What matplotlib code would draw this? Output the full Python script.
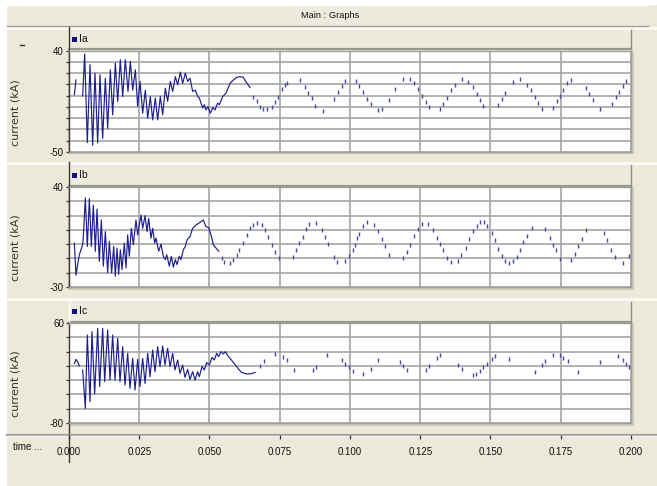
import numpy as np
import matplotlib
matplotlib.use('Agg')
import matplotlib.pyplot as plt
from matplotlib import font_manager
from matplotlib.patches import Rectangle
from matplotlib.ticker import FixedLocator, FuncFormatter

# ---------------- data (time in ms, current in kA) ----------------
series_names = ['Ia', 'Ib', 'Ic']

ia_t = [1.90, 2.49, np.nan, 4.86, 5.58, 6.52, 7.47, 8.42, 9.25, 10.20, 11.03, 11.98, 12.93, 13.76,
        14.71, 15.54, 16.49, 17.32, 18.27, 19.10, 20.05, 21.00, 21.83, 22.66, 23.61, 24.44, 25.27,
        26.22, 27.16, 28.00, 28.94, 29.77, 30.72, 31.55, 32.50, 33.33, 34.28, 35.11, 36.06, 36.89,
        37.84, 38.67, 39.62, 40.45, 41.40, 42.23, 43.06, 44.01, 44.96, 45.79, 46.38, 47.57, 48.16,
        48.75, 49.47, 50.30, 51.13, 51.96, 52.91, 53.50, 54.69, 55.87, 57.3, 58.5, 59.7, 60.9,
        62.0, 63.2, 64.4]
ia_v = [0.8, 14, np.nan, 0, 37, -41.7, 27.5, -44, 20, -42, 18.6, -38, 15.6, -29,
        23, -17, 29, -5, 32, -0.7, 32, 3.8, 30.5, 5, 23, -9.6, 12.7,
        -15.5, 5, -20, -0.7, -21.5, -2, -21.5, -0.7, -17, 6.7, -5, 12.7, 3.8,
        17, 9.7, 21, 11, 20, 12.7, 15.6, 3.8, 5, -0.7, -2, -11, -8,
        -12.6, -9.6, -15.5, -10.5, -12.6, -6.6, -8, -0.7, 2.3, 11, 14, 16.3, 17,
        16.3, 11.6, 7.4]
ia_dot_t = [65.6, 66.8, 68.0, 69.2, 70.3, 72.1, 73.3, 74.5, 75.7, 76.9, 77.7, 82.2, 84.0, 85.2,
            86.4, 87.5, 90.5, 94.3, 95.8, 97.0, 98.3, 102.1, 103.3, 104.5, 106.2, 107.3, 109.8,
            111.3, 114.0, 116.0, 119.0, 121.4, 122.8, 124.3, 125.5, 126.9, 128.2, 132.0, 133.2,
            134.4, 135.8, 137.4, 139.7, 142.1, 143.7, 145.1, 146.3, 147.5, 152.8, 154.2, 155.2,
            157.9, 160.5, 162.9, 164.3, 165.8, 167.0, 168.3, 172.1, 173.5, 174.7, 175.9, 177.3,
            178.5, 184.0, 185.2, 186.6, 189.0, 193.1, 194.5, 195.6, 197.0, 198.2]
ia_dot_v = [-0.9, -5, -9.7, -12, -12, -10.3, -5.3, -0.9, 5.7, 9.5, 11.6, 14, 7.4, 2,
            -2.3, -9, -13.3, -2.6, 3.3, 8.4, 13, 12.7, 8.4, 3.3, -3.2, -7.6, -12.9,
            -11.7, -4, 5.6, 14.5, 14.5, 11, 5.6, -0.3, -5.6, -10, -11.5, -7,
            -1.8, 4.7, 9.8, 15.1, 12.2, 7.4, 1.8, -3.5, -9.1, -8.2, -2.6, 2.4,
            12.2, 15.1, 9.2, 4.7, -1.2, -6.5, -11.5, -10.6, -4.7, -0.6, 5.3, 11,
            14, 6.5, 1.5, -3.8, -12, -7.4, -1.2, 3.3, 8.4, 13]

ib_t = [1.90, 2.49, 3.08, 3.68, 4.27, 4.86, 5.10, 5.81, 6.52, 7.24, 7.95, 8.66, 9.37, 9.96, 10.79,
        11.51, 12.22, 12.93, 13.76, 14.35, 15.18, 15.90, 16.49, 17.08, 17.67, 18.27, 18.86, 19.69,
        20.28, 20.88, 21.47, 22.18, 22.89, 23.84, 24.44, 25.62, 26.22, 27.05, 27.76, 28.35, 29.18,
        29.77, 30.49, 30.96, 31.91, 32.74, 33.57, 34.28, 34.76, 35.71, 36.42, 37.13, 37.84, 38.43,
        39.26, 39.86, 40.69, 41.40, 41.99, 43.06, 44.01, 45.20, 46.14, 46.98, 47.81, 48.75, 49.70,
        50.53, 51.36, 52.31, 53.26]
ib_v = [0.7, -21.7, -14.3, -7.4, -3.9, -0.4, 5.3, 32.4, -1.6, 31.9, -1.6, 27.3, -5, 24.5, -12,
        16.9, -15.4, 8.8, -20, 1.9, -20, -1.6, -22.4, -2.7, -21.2, -3.9, -17.8, 0.7,
        -16.6, 6.5, -8.5, 11.1, -0.4, 16.9, 6.5, 20.4, 11.1, 19.9, 8.8, 18, 4.2,
        11.1, 0.7, 4.2, -5, 0, -8.5, -10.8, -7.4, -15.4, -8.5, -16.1, -10.8, -14.3,
        -8.5, -10.8, -3.9, -1.6, 3, 5.3, 11.1, 13.4, 14.6, 15.7, 16.9, 12.3, 11.6,
        6.5, -0.4, -2.7, -5]
ib_dot_t = [54.3, 55.2, 57.3, 58.5, 59.7, 60.6, 61.8, 63.2, 64.4, 65.6, 67.0, 68.6, 69.8, 70.9,
            72.1, 73.3, 74.9, 79.8, 80.8, 82.0, 83.2, 84.3, 85.5, 87.9, 89.9, 91.1, 92.3, 94.3,
            95.5, 98.2, 99.7, 100.9, 101.8, 102.6, 103.3, 104.7, 106.2, 108.6, 110.1, 111.3,
            112.5, 114.0, 119.0, 120.2, 121.3, 122.8, 124.3, 125.5, 127.9, 129.7, 131.1, 132.0,
            133.2, 134.4, 135.8, 138.5, 139.6, 141.2, 142.5, 143.9, 145.1, 146.3, 147.7, 148.9,
            150.4, 151.6, 152.8, 154.0, 155.1, 156.6, 157.9, 159.3, 160.5, 161.7, 162.9, 164.7,
            169.5, 171.0, 172.1, 173.3, 174.7, 178.5, 180.0, 181.2, 182.4, 184.0, 190.4, 191.6,
            192.9, 194.3, 197.0, 199.4]
ib_dot_v = [-9.8, -12.2, -13.3, -11, -7.5, -4, 0.6, 6.4, 11, 13.3, 15, 13.3, 9.9, 5.2,
            -0.6, -5.2, -9.8, -8.7, -4, 0.6, 5.2, 10.3, 14, 15, 9.9, 5.2, -0.1, -9,
            -12.7, -12, -8.5, -3.9, -0.4, 4.3, 7.3, 12.5, 15.3, 13.6, 9.4, 3.6,
            -1.5, -7.4, -9.7, -5.7, -0.4, 5.5, 10.6, 14.3, 14.3, 9.7, 4.3, 0.1,
            -4.3, -9.7, -12.7, -11.6, -7.4, -2.7, 3.6, 9, 12.9, 15.3, 15.3, 12.5,
            7.8, 2.7, -3.4, -8.5, -11.6, -13.2, -12, -9, -3.9, 1.3, 5.9, 11.3,
            10.6, 4.3, -0.4, -3.9, -10.4, -10.9, -6.7, -1.5, 3.6, 9.7, 7.8, 2.7,
            -3.9, -9, -13.2, -8.5]

ic_t = [1.90, 2.49, 3.08, 3.68, np.nan, 4.86, 5.81, 6.52, 7.47, 8.19, 9.13, 10.20, 10.91, 11.98,
        12.69, 13.76, 14.59, 15.54, 16.37, 17.32, 18.15, 19.10, 19.93, 20.88, 21.71, 22.66, 23.49,
        24.44, 25.27, 26.22, 27.05, 28.00, 28.83, 29.77, 30.60, 31.55, 32.38, 33.33, 34.16, 35.11,
        35.94, 36.89, 37.72, 38.67, 39.50, 40.45, 41.28, 42.23, 43.06, 44.01, 44.84, 45.79, 46.38,
        47.33, 48.16, 48.99, 49.94, 50.89, 51.72, 52.55, 53.26, 54.09, 54.92, 55.63, 56.7, 57.9,
        59.1, 60.3, 61.4, 63.2, 65.0, 66.2]
ic_v = [3.5, 9.1, 5.9, 0, np.nan, -5.8, -59.5, 43.2, -50, 47.9, -39.4, 52.5, -29, 52.5,
        -22, 50.2, -19.8, 43.2, -19.8, 38.5, -22, 26.9, -26.8, 17.5, -31.5, 10.5, -33.8,
        9.1, -29.1, 10.5, -24.5, 17.5, -15.1, 22.2, -8.1, 26.9, -1.1, 27.8, 1.2, 24.5,
        -1.1, 17.5, -5.8, 8.2, -10.5, 1.2, -16.1, -4.9, -18.9, -8.1, -19.8, -8.1, -15.1,
        -1.1, -5.8, 4.5, 1.2, 11.9, 8.2, 17.5, 12.9, 19.9, 16.6, 19.9, 13.3, 7.7,
        1.7, -4.4, -9.1, -11.4, -10.9, -9.1]
ic_dot_t = [68.0, 69.5, 73.4, 76.0, 77.7, 80.1, 86.7, 87.9, 91.7, 97.0, 98.2, 99.7, 100.9, 104.7,
            107.4, 109.9, 117.8, 119.0, 120.4, 126.9, 128.1, 130.8, 132.0, 138.6, 139.8, 143.7,
            144.8, 146.3, 147.5, 148.6, 150.4, 151.6, 156.6, 165.8, 168.2, 169.4, 172.1, 174.7,
            175.9, 177.5, 181.3, 189.0, 195.5, 197.0, 198.3, 199.4]
ic_dot_v = [0.3, 6.3, 17.1, 12.4, 7.7, -5.3, -5.3, -1.6, 15.7, 7.7, 3.1, -2.1, -6.7, -10.9,
            -4.4, 7.7, 4.9, -0.7, -5.3, -5.3, -0.7, 11, 15.2, 0.7, -4.4, -12.3,
            -10.9, -6.7, -2.1, 3.1, 9.6, 13.3, 9.6, -9.1, 1.2, 6.8, 15.2, 15.2,
            11.5, 6.8, -8.6, 4.9, 13.3, 8.7, 3.1, -2.1]

y_limits = [(-50, 40, 10), (-30, 40, 10), (-80, 60, 20)]
time_ticks = [0.000, 0.025, 0.050, 0.075, 0.100, 0.125, 0.150, 0.175, 0.200]
time_labels = ['0.000', '0.025', '0.050', '0.075', '0.100', '0.125', '0.150', '0.175', '0.200']
y_label = 'current (kA)'
title = 'Main : Graphs'
time_label = 'time ...'

solid_t = [ia_t, ib_t, ic_t]
solid_v = [ia_v, ib_v, ic_v]
dot_t = [ia_dot_t, ib_dot_t, ic_dot_t]
dot_v = [ia_dot_v, ib_dot_v, ic_dot_v]

# ---------------- style / layout ----------------
W, H = 657, 486
BEIGE = '#ECE9D8'
HEAD = '#EEEBDD'
GRID = '#A6A6A6'
NAVY = '#1E1E8E'
DOTC = '#4545AA'

names = {f.name for f in font_manager.fontManager.ttflist}
if 'Liberation Sans Narrow' in names:
    UI, UIS = 'Liberation Sans Narrow', 8.0
else:
    UI, UIS = 'Liberation Sans', 7.0

X0, X1 = 69, 631
plots = [(50.7, 152.0), (187.0, 287.0), (323.0, 423.0)]
headers = [(30.0, 49.5), (165.5, 186.0), (301.5, 322.0)]
seps = [28.2, 163.5, 299.2]
TLINE = 434.5

fig = plt.figure(figsize=(W / 100, H / 100), dpi=100, facecolor='white')
bg = fig.add_axes([0, 0, 1, 1])
bg.set_xlim(0, W)
bg.set_ylim(H, 0)
bg.axis('off')

bg.add_patch(Rectangle((7, 5), W - 7, H - 5, fc=BEIGE, ec='none'))
# title bar
bg.add_patch(Rectangle((7, 5), 641, 21, fc='#EEEBDE', ec='none'))
bg.plot([7, 648], [5.5, 5.5], color='white', lw=1)
bg.plot([7, 648], [26, 26], color='#A5A192', lw=1)
bg.text(330.5, 15.8, title, family=UI, size=UIS - 0.3, ha='center', va='center', color='#111111')

for i in range(3):
    top, bot = plots[i]
    htop, hbot = headers[i]
    # separator band
    bg.add_patch(Rectangle((7, seps[i] - 1.2), W - 7, 2.6, fc='#FAF9F4', ec='none'))
    # header strip
    bg.add_patch(Rectangle((X0, htop), X1 - X0, hbot - htop, fc=HEAD, ec='none'))
    bg.plot([X0, X1], [hbot, hbot], color='#9C9888', lw=1.6)
    bg.plot([X1, X1], [htop, hbot], color='#8E8A7C', lw=1.0)
    bg.plot([X0, X0], [htop, hbot], color='white', lw=1.0)
    # legend
    ly = (htop + hbot) / 2 - 0.5
    bg.add_patch(Rectangle((71.8, ly - 2.7), 5.4, 5.4, fc='#10107E', ec='none'))
    bg.text(79.5, ly, series_names[i], family=UI, size=UIS + 0.5, ha='left', va='center',
            color='#111111')
    # plot shadow
    bg.plot([X1 + 1.5, X1 + 1.5], [top + 1, bot + 1.5], color='#C9C6B8', lw=1.2)
    bg.plot([X0 + 1, X1 + 1.5], [bot + 1.5, bot + 1.5], color='#C9C6B8', lw=1.2)
    # left axis line extension
    ext = TLINE if i == 2 else seps[i] - 1
    bg.plot([X0, X0], [bot, ext], color='#3A3A3A', lw=1.0)
    # y label
    bg.text(15, bot - 39.5, y_label, family='DejaVu Sans', size=8.0, rotation=90,
            ha='center', va='center', color='#333333')

bg.plot([20, 24], [45, 45], color='#333333', lw=1.0)

# time axis line
bg.plot([7, W], [TLINE, TLINE], color='#A3A3A3', lw=1.6)
bg.plot([7, W], [TLINE + 1.5, TLINE + 1.5], color='#F7F6F0', lw=1.0)
bg.plot([X0, X0], [TLINE, 462], color='#3A3A3A', lw=1.0)
bg.text(13, 446.5, time_label, family=UI, size=UIS, ha='left', va='center', color='#111111')

for i in range(3):
    top, bot = plots[i]
    lo, hi, step = y_limits[i]
    ax = fig.add_axes([X0 / W, 1 - bot / H, (X1 - X0) / W, (bot - top) / H])
    ax.set_facecolor('white')
    ax.set_xlim(0, 0.2)
    ax.set_ylim(lo, hi)
    ax.set_axisbelow(True)
    ax.xaxis.set_major_locator(FixedLocator(time_ticks))
    yt = list(range(lo, hi + 1, step))
    ax.yaxis.set_major_locator(FixedLocator(yt))
    ax.yaxis.set_major_formatter(FuncFormatter(
        lambda v, p, lo=lo, hi=hi: f'{int(round(v))}' if round(v) in (lo, hi) else ''))
    ax.grid(True, color=GRID, lw=1.2)
    ax.tick_params(axis='x', length=0, labelbottom=False)
    ax.tick_params(axis='y', length=2.4, width=0.9, color='#333333', pad=1.2,
                   labelsize=UIS, labelcolor='#111111')
    for lab in ax.get_yticklabels():
        lab.set_family(UI)
    for s in ('top', 'right', 'bottom'):
        ax.spines[s].set_color('#A0A0A0')
        ax.spines[s].set_linewidth(1.0)
    ax.spines['left'].set_color('#3A3A3A')
    ax.spines['left'].set_linewidth(1.0)

    t = np.array(solid_t[i], dtype=float) / 1000.0
    v = np.array(solid_v[i], dtype=float)
    ax.plot(t, v, color=NAVY, lw=0.85, solid_joinstyle='round', clip_on=True)
    td = np.array(dot_t[i], dtype=float) / 1000.0
    vd = np.array(dot_v[i], dtype=float)
    ax.plot(td, vd, ls='none', marker='|', ms=2.6, mew=1.0, color=DOTC)

# time axis ticks and labels
tax = fig.add_axes([X0 / W, 1 - (TLINE + 1) / H, (X1 - X0) / W, 1 / H])
tax.set_xlim(0, 0.2)
tax.patch.set_alpha(0)
for s in tax.spines.values():
    s.set_visible(False)
tax.set_yticks([])
tax.set_xticks(time_ticks)
tax.set_xticklabels(time_labels)
tax.tick_params(axis='x', length=2.6, width=0.9, color='#333333', pad=6.0,
                labelsize=UIS, labelcolor='#111111')
for lab in tax.get_xticklabels():
    lab.set_family(UI)

fig.savefig('out.png', dpi=100, facecolor='white')
